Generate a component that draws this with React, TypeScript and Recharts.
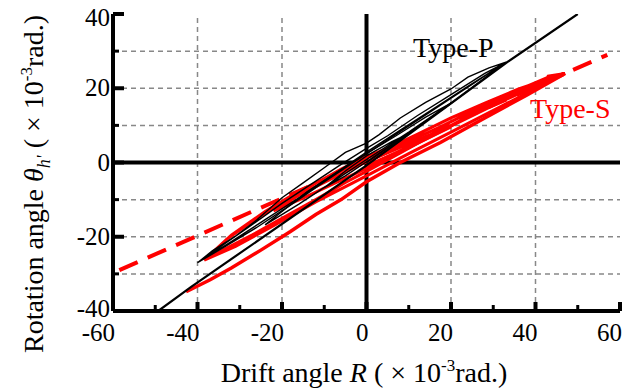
import React from "react";
import { LineChart, Line, XAxis, YAxis, ReferenceLine } from "recharts";

const FONT = "Liberation Serif, Tinos, Times New Roman, DejaVu Serif, serif";

// axis ticks (every 10, labels on every 20)
const xTicks = [-60, -50, -40, -30, -20, -10, 0, 10, 20, 30, 40, 50, 60];
const yTicks = [-40, -30, -20, -10, 0, 10, 20, 30, 40];
const xGrid = [-40, -20, 20, 40];
const yGrid = [-30, -20, -10, 10, 20, 30];

// Type-P skeleton line
const typePSkeleton = [
  { x: -49.3, y: -40 },
  { x: -41.5, y: -33.5 },
  { x: 0, y: -0.8 },
  { x: 33, y: 26.8 },
  { x: 50, y: 40 },
];

// Type-P small cycles
const typePSmall = [
  { x: 0, y: 0 }, { x: 5, y: 4 }, { x: 10, y: 7.8 }, { x: 6, y: 5.6 },
  { x: 0, y: 1.8 }, { x: -5, y: -2.3 }, { x: -10, y: -6.8 }, { x: -5, y: -3.6 },
  { x: 0, y: 0.2 }, { x: 5, y: 4 }, { x: 10, y: 7.8 }, { x: 20, y: 16 },
  { x: 14, y: 12.2 }, { x: 7, y: 7.2 }, { x: 0, y: 2.4 }, { x: -7, y: -2.6 },
  { x: -14, y: -7.8 }, { x: -20, y: -13.2 }, { x: -24, y: -16.8 }, { x: -16, y: -11.2 },
  { x: -8, y: -5.2 }, { x: 0, y: 0.8 }, { x: 10, y: 8.2 }, { x: 20, y: 16 },
];

// Type-P large cycles
const typePLarge = [
  { x: 0, y: 0 }, { x: 10, y: 7.9 }, { x: 20, y: 15.9 }, { x: 33, y: 27 },
  { x: 29, y: 25.5 }, { x: 24, y: 23 }, { x: 20, y: 19.8 }, { x: 14, y: 16.2 },
  { x: 8, y: 12 }, { x: 3, y: 7.5 }, { x: 0, y: 5.2 }, { x: -5, y: 2.7 },
  { x: -10, y: -1.4 }, { x: -15, y: -5.5 }, { x: -20, y: -9.5 }, { x: -26, y: -15.5 },
  { x: -31, y: -19.8 }, { x: -36.5, y: -23.8 }, { x: -40, y: -27 },
  { x: -32, y: -21.3 }, { x: -24, y: -15.4 }, { x: -16, y: -9.5 }, { x: -8, y: -3.4 },
  { x: 0, y: 2.8 }, { x: 8, y: 8.7 }, { x: 16, y: 14.6 }, { x: 24, y: 20.5 }, { x: 33, y: 27 },
  { x: 28, y: 24 }, { x: 20, y: 18.3 }, { x: 12, y: 12.6 }, { x: 5, y: 7.2 },
  { x: 0, y: 3.8 }, { x: -6, y: -0.5 }, { x: -12, y: -5 }, { x: -20, y: -11 },
  { x: -28, y: -17.5 }, { x: -35, y: -23 }, { x: -40, y: -27 },
  { x: -34, y: -23 }, { x: -26, y: -17.5 }, { x: -18, y: -11.5 }, { x: -10, y: -5.2 },
  { x: -2, y: 0.8 }, { x: 6, y: 6.8 }, { x: 14, y: 12.8 }, { x: 22, y: 18.8 }, { x: 33, y: 27 },
];

// Type-S small cycles
const typeSSmall = [
  { x: 0, y: -1 }, { x: 10, y: 4.2 }, { x: 20, y: 9.6 }, { x: 14, y: 7 },
  { x: 7, y: 3.6 }, { x: 0, y: 0.2 }, { x: -8, y: -4.2 }, { x: -16, y: -8.8 },
  { x: -22, y: -13 }, { x: -15, y: -9.6 }, { x: -8, y: -5.8 }, { x: 0, y: -1.6 },
  { x: 10, y: 4 }, { x: 20, y: 9.6 },
];

// Type-S large cycles
const typeSLarge = [
  { x: 0, y: -1 }, { x: 10, y: 4 }, { x: 20, y: 9.8 }, { x: 30, y: 15.4 },
  { x: 40, y: 20.6 }, { x: 47, y: 24 }, { x: 43, y: 23.3 }, { x: 42.5, y: 22.3 },
  { x: 36, y: 19.8 }, { x: 28, y: 16 }, { x: 20, y: 12 }, { x: 12, y: 7.6 },
  { x: 5, y: 3.8 }, { x: 0, y: 1.6 }, { x: -6, y: -1.8 }, { x: -12, y: -5.6 },
  { x: -20, y: -10.8 }, { x: -27, y: -15.8 }, { x: -33, y: -20.6 }, { x: -38.4, y: -26.3 },
  { x: -34, y: -23.6 }, { x: -27, y: -19.5 }, { x: -20, y: -15 }, { x: -12, y: -10 },
  { x: -5, y: -5.4 }, { x: 0, y: -2.4 }, { x: 8, y: 2.6 }, { x: 16, y: 7.6 },
  { x: 24, y: 12.4 }, { x: 32, y: 16.8 }, { x: 40, y: 20.8 }, { x: 47, y: 24 },
  { x: 42.6, y: 22.8 }, { x: 34, y: 18.6 }, { x: 26, y: 14.4 }, { x: 17.5, y: 9.6 },
  { x: 8, y: 4.6 }, { x: 0, y: 1.2 }, { x: -8, y: -3.4 }, { x: -15.6, y: -7.4 },
  { x: -24, y: -13.2 }, { x: -32, y: -19.6 }, { x: -38.4, y: -26.3 },
  { x: -31, y: -22.6 }, { x: -22, y: -17 }, { x: -12, y: -10.6 }, { x: 0, y: -3.6 },
  { x: 10, y: 2.4 }, { x: 20, y: 8.2 }, { x: 32, y: 15.2 }, { x: 47, y: 24 },
];

// Type-S last unloading to the negative side
const typeSFinal = [
  { x: 47, y: 24 }, { x: 38, y: 18.2 }, { x: 28, y: 12 }, { x: 17.5, y: 5.4 },
  { x: 8, y: 0 }, { x: 0, y: -5.2 }, { x: -6, y: -10 }, { x: -12, y: -14 },
  { x: -18, y: -18.6 }, { x: -25, y: -23.6 }, { x: -32, y: -28.4 }, { x: -37, y: -31.6 },
  { x: -42.7, y: -34.8 },
];

// Type-S dashed reference line
const typeSDesign = [
  { x: -58.5, y: -29 },
  { x: 57, y: 29 },
];

const txt = { fontFamily: FONT };

const BottomTick = (props: any) => {
  const { x, y, payload } = props;
  const v = payload.value;
  const major = v % 20 === 0;
  return (
    <g>
      <line x1={x} x2={x} y1={y} y2={y - (major ? 9 : 6)} stroke="#000" strokeWidth={major ? 4 : 3} />
      {major && (
        <text x={x + 2} y={y + 30} textAnchor="end" fontSize={25} style={txt} fill="#000">
          {v}
        </text>
      )}
    </g>
  );
};

const TopTick = (props: any) => {
  const { x, y, payload } = props;
  const major = payload.value % 20 === 0;
  return <line x1={x} x2={x} y1={y} y2={y + (major ? 9 : 6)} stroke="#000" strokeWidth={major ? 4 : 3} />;
};

const LeftTick = (props: any) => {
  const { x, y, payload } = props;
  const v = payload.value;
  const major = v % 20 === 0;
  const dy = v === 40 ? 12 : v === -40 ? 6 : 8;
  return (
    <g>
      <line x1={x} x2={x + (major ? 11 : 6)} y1={y} y2={y} stroke="#000" strokeWidth={major ? 4 : 3} />
      {major && (
        <text x={x - 3} y={y + dy} textAnchor="end" fontSize={25} style={txt} fill="#000">
          {v}
        </text>
      )}
    </g>
  );
};

const RightTick = (props: any) => {
  const { x, y, payload } = props;
  const major = payload.value % 20 === 0;
  return <line x1={x} x2={x - (major ? 11 : 6)} y1={y} y2={y} stroke="#000" strokeWidth={major ? 4 : 3} />;
};

const axisLine = { stroke: "#000", strokeWidth: 4 };

export default function App() {
  return (
    <div style={{ position: "absolute", left: 0, top: 0, width: 627, height: 391, background: "#fff" }}>
      <LineChart width={627} height={391} margin={{ top: 14, right: 7, bottom: 0, left: 0 }}>
        <XAxis
          xAxisId="b" type="number" dataKey="x" domain={[-60, 60]} ticks={xTicks} interval={0}
          height={80} tickSize={0} tickMargin={0} tick={BottomTick} tickLine={false} axisLine={axisLine}
          allowDataOverflow
        />
        <XAxis
          xAxisId="t" orientation="top" type="number" dataKey="x" domain={[-60, 60]} ticks={xTicks} interval={0}
          height={0} tickSize={0} tickMargin={0} tick={TopTick} tickLine={false} axisLine={axisLine}
          allowDataOverflow
        />
        <YAxis
          yAxisId="l" type="number" dataKey="y" domain={[-40, 40]} ticks={yTicks} interval={0}
          width={113} tickSize={0} tickMargin={0} tick={LeftTick} tickLine={false} axisLine={axisLine}
          allowDataOverflow
        />
        <YAxis
          yAxisId="r" orientation="right" type="number" dataKey="y" domain={[-40, 40]} ticks={yTicks} interval={0}
          width={0} tickSize={0} tickMargin={0} tick={RightTick} tickLine={false} axisLine={axisLine}
          allowDataOverflow
        />
        {xGrid.map((v) => (
          <ReferenceLine key={"gx" + v} xAxisId="b" yAxisId="l" x={v} stroke="#888" strokeWidth={1.5} strokeDasharray="5 4" />
        ))}
        {yGrid.map((v) => (
          <ReferenceLine key={"gy" + v} xAxisId="b" yAxisId="l" y={v} stroke="#888" strokeWidth={1.5} strokeDasharray="5 4" />
        ))}
        <ReferenceLine xAxisId="b" yAxisId="l" x={0} stroke="#000" strokeWidth={4} />
        <ReferenceLine xAxisId="b" yAxisId="l" y={0} stroke="#000" strokeWidth={4} />

        <Line xAxisId="b" yAxisId="l" data={typeSDesign} dataKey="y" stroke="#ff0000" strokeWidth={4}
          strokeDasharray="20 11" dot={false} isAnimationActive={false} />
        <Line xAxisId="b" yAxisId="l" data={typeSSmall} dataKey="y" stroke="#ff0000" strokeWidth={3}
          dot={false} isAnimationActive={false} />
        <Line xAxisId="b" yAxisId="l" data={typeSLarge} dataKey="y" stroke="#ff0000" strokeWidth={3}
          dot={false} isAnimationActive={false} />
        <Line xAxisId="b" yAxisId="l" data={typeSFinal} dataKey="y" stroke="#ff0000" strokeWidth={3.5}
          dot={false} isAnimationActive={false} />
        <Line xAxisId="b" yAxisId="l" data={typePSmall} dataKey="y" stroke="#000" strokeWidth={1.4}
          dot={false} isAnimationActive={false} />
        <Line xAxisId="b" yAxisId="l" data={typePLarge} dataKey="y" stroke="#000" strokeWidth={1.4}
          dot={false} isAnimationActive={false} />
        <Line xAxisId="b" yAxisId="l" data={typePSkeleton} dataKey="y" stroke="#000" strokeWidth={2.2}
          dot={false} isAnimationActive={false} />
      </LineChart>
      <svg width={627} height={391} style={{ position: "absolute", left: 0, top: 0, pointerEvents: "none", ...txt }}>
        <g fill="#000">
          <text x={413} y={57} fontSize={28} style={txt}>Type-P</text>
          <text x={530} y={118} fontSize={28} fill="#ff0000" style={txt}>Type-S</text>
          <text x={364} y={382} fontSize={28} textAnchor="middle" style={txt}>
            Drift angle <tspan fontStyle="italic">R</tspan> ( × 10
            <tspan dy={-11} fontSize={17}>-3</tspan>
            <tspan dy={11}>rad.)</tspan>
          </text>
          <text transform="rotate(-90)" x={-184} y={43} fontSize={28} textAnchor="middle" style={txt}>
            Rotation angle <tspan fontStyle="italic">θ</tspan>
            <tspan dy={7} fontSize={18} fontStyle="italic">h'</tspan>
            <tspan dy={-7}> ( × 10</tspan>
            <tspan dy={-11} fontSize={17}>-3</tspan>
            <tspan dy={11}>rad.)</tspan>
          </text>
        </g>
      </svg>
    </div>
  );
}
